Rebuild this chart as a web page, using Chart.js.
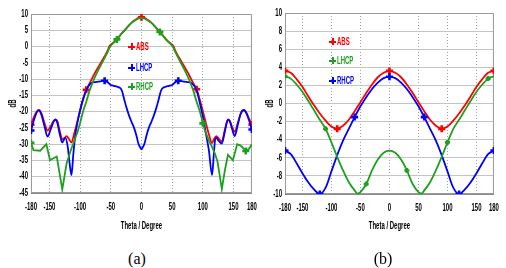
<!DOCTYPE html>
<html><head><meta charset="utf-8">
<script src="https://cdn.jsdelivr.net/npm/chart.js@4.4.1/dist/chart.umd.min.js"></script>
<style>
html,body{margin:0;padding:0;background:#fff;width:506px;height:268px;overflow:hidden;position:relative;font-family:'Liberation Sans',Arial,sans-serif;}
.cw{position:absolute;top:0;height:236px;}
#wa{left:0;width:258px;}
#wb{left:254px;width:246px;}
.cap{position:absolute;top:251px;width:40px;text-align:center;font-family:'Liberation Serif','DejaVu Serif',serif;font-size:16px;line-height:16px;color:#000;}
.leg{position:absolute;font-weight:bold;font-size:10px;line-height:12px;white-space:nowrap;height:12px;}
.leg .m{position:absolute;left:0;top:2px;width:7px;height:7px;}
.leg .m:before{content:'';position:absolute;left:0;top:2.5px;width:7px;height:2.2px;background:currentColor}
.leg .m:after{content:'';position:absolute;left:2.5px;top:0;width:2.2px;height:7px;background:currentColor}
.leg .t{position:absolute;left:8px;top:0;transform:scaleX(0.6);transform-origin:0 0;}
</style>
</head><body>
<div class="cw" id="wa"><canvas id="ca"></canvas></div>
<div class="cw" id="wb"><canvas id="cb"></canvas></div>
<div class="cap" style="left:117px">(a)</div>
<div class="cap" style="left:363px">(b)</div>
<div class="leg" style="left:128px;top:41px;color:#ff0000"><span class="m"></span><span class="t">ABS</span></div>
<div class="leg" style="left:128px;top:62px;color:#0000ff"><span class="m"></span><span class="t">LHCP</span></div>
<div class="leg" style="left:128px;top:81px;color:#1ea01e"><span class="m"></span><span class="t">RHCP</span></div>
<div class="leg" style="left:329px;top:36px;color:#ff0000"><span class="m"></span><span class="t">ABS</span></div>
<div class="leg" style="left:329px;top:55px;color:#1ea01e"><span class="m"></span><span class="t">LHCP</span></div>
<div class="leg" style="left:329px;top:75px;color:#0000ff"><span class="m"></span><span class="t">RHCP</span></div>
<script>
// ---------- DATA ----------
const xTickLabels = [-180,-150,-100,-50,0,50,100,150,180];

// (a)
const absThetaA = [-180,-175,-170,-167,-163,-158,-153,-148,-143,-140,-137,-133,-129,-125,-122,-118,-114,-110,-105,-100,-95,-90,-85,-80,-75,-70,-65,-60,-55,-52,-48,-44,-40,-35,-30,-25,-20,-15,-10,-5,0,5,10,15,20,25,30,35,40,44,48,52,55,60,65,70,75,80,85,90,95,100,105,110,115,118,122,126,131,136,141,144,148,152,157,162,167,171,175,180];
const absA = [-24,-21.5,-19.8,-19.5,-20.5,-23.5,-25.8,-24.5,-22.8,-22.4,-23,-26,-28.5,-28,-27.5,-28.5,-29.5,-27,-23.5,-19.8,-16.3,-13.3,-11.5,-9.6,-7.8,-6.2,-4.6,-3,-1.2,0.2,0.9,1.5,2.2,3.4,4.5,5.5,6.6,7.5,8.2,8.8,9.0,8.8,8.2,7.5,6.6,5.5,4.5,3.4,2.2,1.5,0.9,0.2,-1.2,-3,-4.6,-6.2,-7.8,-9.6,-11.5,-13.1,-16.3,-19.8,-23.5,-27,-29.7,-28.5,-27.5,-28.3,-29.2,-25.5,-22.4,-22.9,-24.8,-26.2,-23.5,-20.5,-19.5,-20.3,-22,-24];

const lhcpThetaA = [-180,-175,-170,-167,-163,-158,-153,-148,-143,-140,-137,-133,-129,-126,-124,-120,-117,-114,-111,-108,-104,-100,-95,-90,-85,-80,-75,-70,-65,-60,-55,-50,-45,-40,-35,-32,-30,-27,-24,-20,-16,-12,-8,-5,-2,0,2,5,8,12,16,20,24,27,30,32,35,40,45,50,55,60,65,70,75,80,85,90,94,100,105,110,115,118,120,122,126,131,136,141,144,148,152,157,162,167,171,175,180];
const lhcpA = [-25.8,-22.5,-20,-19.6,-21,-24.5,-27.7,-25.5,-23,-22.5,-23.5,-27,-29.5,-28.5,-28,-31,-36,-39.5,-33,-27.5,-23,-19.5,-16,-13.5,-11.8,-11.1,-10.9,-10.8,-10.6,-10.5,-11,-11.8,-12.1,-12.3,-12.7,-13.5,-14.8,-17,-19,-21.3,-23.2,-25,-27.5,-29.8,-31,-31.6,-31,-29.8,-27.5,-25,-23.2,-21.3,-19,-17,-14.8,-13.5,-12.7,-12.3,-12.1,-11.8,-11,-10.5,-10.6,-10.8,-10.9,-11.1,-11.8,-13.5,-16.4,-21.5,-26.7,-32,-39.5,-33,-28.7,-28,-29,-29.8,-26,-22.5,-23,-25.5,-27.5,-24,-20.5,-19.5,-20.5,-22.5,-25.5];

const rhcpThetaA = [-180,-176,-165,-155,-149,-138,-129,-122,-115,-109,-104,-100,-95,-90,-85,-80,-75,-70,-65,-60,-55,-52,-48,-44,-40,-35,-30,-25,-20,-15,-10,-5,0,5,10,15,20,25,30,35,40,44,48,52,55,60,65,70,75,80,85,90,95,98,100,103,106,110,115,120,124,127,131,136,141,149,156,160,164,170,175,180];
const rhcpA = [-29.6,-31.8,-32,-30,-34.9,-33.8,-43.9,-35.9,-31.8,-28.7,-26.2,-23.5,-19.8,-17,-13.8,-11.2,-9,-7.1,-5.3,-3.5,-1.6,-0.3,0.7,1.4,2.2,3.4,4.5,5.5,6.6,7.5,8.1,8.6,8.8,8.6,8.1,7.5,6.6,5.5,4.5,3.4,2.2,1.4,0.7,-0.3,-1.6,-3.5,-5.3,-7.1,-9,-11.2,-13.8,-17,-19.8,-22,-23.6,-25.5,-27,-29,-30.8,-33,-35.4,-39,-43.8,-38,-33.3,-34.9,-30,-30.3,-30.8,-32.1,-31.5,-30];

const marksA = {abs:[-180,-90,0,90,180], lhcp:[-180,-60,60,180], rhcp:[-180,-40,30,100,170]};
const yTicksA = {min:-45, max:10, step:5};

// (b)
const thetaB = [-180,-170,-160,-150,-140,-130,-120,-110,-100,-90,-80,-70,-60,-50,-40,-30,-20,-10,0,10,20,30,40,50,60,70,80,90,100,110,120,130,140,150,160,170,180];
const absB = [3.6,3.4,2.7,1.85,0.8,-0.2,-1.1,-1.9,-2.55,-2.8,-2.45,-1.8,-0.85,0.15,1.15,2.1,2.9,3.4,3.6,3.4,2.9,2.1,1.15,0.15,-0.85,-1.8,-2.45,-2.8,-2.55,-1.9,-1.1,-0.2,0.8,1.85,2.7,3.4,3.6];
const rhcpB = [-5.2,-5.6,-6.6,-7.7,-8.7,-9.5,-10,-9.3,-7.5,-5.7,-4.1,-2.8,-1.5,-0.3,0.7,1.6,2.3,2.8,2.95,2.8,2.3,1.6,0.7,-0.3,-1.5,-2.8,-4.1,-5.7,-7.5,-9.3,-10,-9.5,-8.7,-7.7,-6.6,-5.6,-5.2];
const lhcpThetaB = [-180,-170,-160,-150,-140,-130,-120,-110,-100,-90,-80,-70,-60,-55,-50,-40,-30,-20,-10,0,10,20,30,40,50,55,60,70,80,90,100,110,120,130,140,150,160,170,180];
const lhcpB = [3.0,2.75,2.1,1.3,0.3,-0.75,-1.8,-2.8,-4.3,-5.9,-7.4,-8.7,-9.6,-9.95,-9.8,-8.9,-7.4,-6.2,-5.45,-5.2,-5.45,-6.2,-7.4,-8.9,-9.8,-9.95,-9.6,-8.7,-7.4,-5.9,-4.3,-2.8,-1.8,-0.75,0.3,1.3,2.1,2.75,3.0];
const marksB = {abs:[-180,-90,0,90,180], lhcp:[-180,-110,-40,30,100,170], rhcp:[-180,-120,-60,0,60,120,180]};
const yTicksB = {min:-10, max:10, step:2};

// ---------- BUILD ----------
const RED='#ff0000', BLUE='#0000ff', GREEN='#1ea01e';
const FONT="'Liberation Sans',Arial,sans-serif";
const SX=0.6; // narrow text rendering
function narrow(canvas){
  const ctx=canvas.getContext('2d');
  const ft=ctx.fillText.bind(ctx), mt=ctx.measureText.bind(ctx);
  ctx.fillText=function(t,x,y){this.save();this.translate(x,y);this.scale(SX,1);ft(t,0,0);this.restore();};
  ctx.measureText=function(t){const m=mt(t);return {width:m.width*SX,actualBoundingBoxAscent:m.actualBoundingBoxAscent,actualBoundingBoxDescent:m.actualBoundingBoxDescent};};
  return canvas;
}
function pts(th,v){return th.map((t,i)=>({x:t,y:v[i]}));}
function ds(label,th,v,color,marks,r,smooth){
  return {label,data:pts(th,v),borderColor:color,backgroundColor:color,borderWidth:1.8,
    cubicInterpolationMode: smooth?'monotone':'default', tension:0,
    pointStyle:'cross',pointBorderWidth:2.6,pointBorderColor:color,
    pointRadius:(c)=>marks.includes(th[c.dataIndex])?r:0, pointHoverRadius:0};
}
const frame={id:'frame',beforeDatasetsDraw(chart){const a=chart.chartArea,c=chart.ctx;c.save();c.strokeStyle='#9a9a9a';c.lineWidth=1;c.strokeRect(a.left+0.5,a.top+0.5,a.right-a.left-1,a.bottom-a.top-1);c.restore();}};

function make(id,datasets,yt,cfg){
  return new Chart(narrow(document.getElementById(id)),{
    type:'line',data:{datasets},
    plugins:[frame],
    options:{responsive:true,maintainAspectRatio:false,animation:false,devicePixelRatio:1,
      layout:{padding:{top:cfg.top,right:cfg.right,left:0,bottom:0}},
      plugins:{legend:{display:false},tooltip:{enabled:false}},
      scales:{
        x:{type:'linear',min:-180,max:180,
          afterBuildTicks:(s)=>{s.ticks=xTickLabels.map(v=>({value:v}));},
          afterFit:(s)=>{s.height=cfg.xh;s.paddingLeft=0;s.paddingRight=0;},
          ticks:{padding:8,color:'#000',font:{family:FONT,size:10,weight:'bold'},maxRotation:0,autoSkip:false,callback:(v)=>String(v)},
          grid:{color:'#a0a0a0',lineWidth:1,drawTicks:false},
          border:{color:'#8a8a8a',dash:[1,2]},
          title:{display:true,text:'Theta / Degree',color:'#000',font:{family:FONT,size:10,weight:'bold'},padding:{top:0,bottom:4}}
        },
        y:{min:yt.min,max:yt.max,
          afterFit:(s)=>{s.width=cfg.yw;s.paddingTop=0;s.paddingBottom=0;},
          ticks:{stepSize:yt.step,padding:3,color:'#000',font:{family:FONT,size:10,weight:'bold'},autoSkip:false},
          grid:{color:'#c4c4c4',lineWidth:1,drawTicks:false},
          border:{color:'#707070'},
          title:{display:true,text:'dB',color:'#000',font:{family:FONT,size:10,weight:'bold'},padding:{top:cfg.tp,bottom:0}}
        }
      }
    }
  });
}

make('ca',[
  ds('RHCP',rhcpThetaA,rhcpA,GREEN,marksA.rhcp,3.5,false),
  ds('LHCP',lhcpThetaA,lhcpA,BLUE,marksA.lhcp,3.5,true),
  ds('ABS',absThetaA,absA,RED,marksA.abs,3.5,true)
],yTicksA,{top:14,right:5,xh:43,yw:31,tp:7});

make('cb',[
  ds('LHCP',lhcpThetaB,lhcpB,GREEN,marksB.lhcp,2.5,true),
  ds('RHCP',thetaB,rhcpB,BLUE,marksB.rhcp,3.5,true),
  ds('ABS',thetaB,absB,RED,marksB.abs,3.5,true)
],yTicksB,{top:13,right:6,xh:42,yw:31,tp:10});
</script>
</body></html>
